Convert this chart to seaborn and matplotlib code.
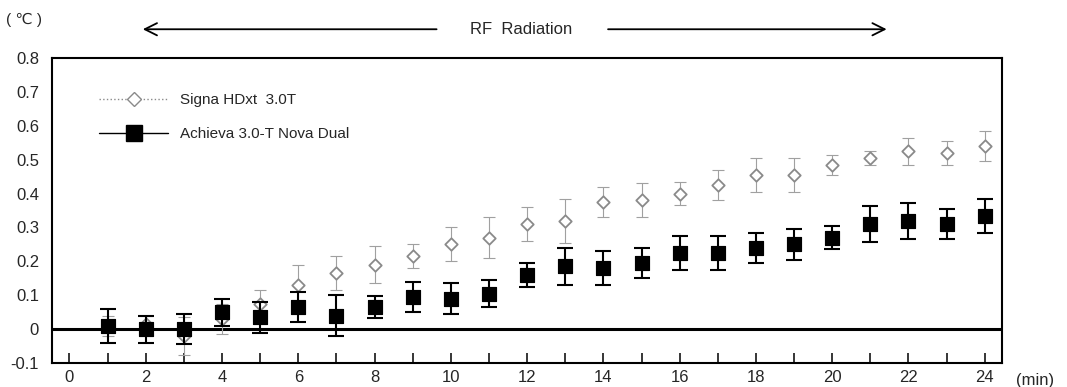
import numpy as np
import pandas as pd
import matplotlib
matplotlib.use("Agg")
import matplotlib.pyplot as plt
from matplotlib.lines import Line2D
import seaborn as sns

minutes = list(range(1, 25))

signa_mean = [0.01, 0.015, -0.02, 0.03, 0.075, 0.13, 0.165, 0.19, 0.215, 0.25, 0.27, 0.31,
              0.32, 0.375, 0.38, 0.40, 0.425, 0.455, 0.455, 0.485, 0.505, 0.525, 0.52, 0.54]
signa_err = [0.03, 0.025, 0.055, 0.045, 0.04, 0.06, 0.05, 0.055, 0.035, 0.05, 0.06, 0.05,
             0.065, 0.045, 0.05, 0.035, 0.045, 0.05, 0.05, 0.03, 0.02, 0.04, 0.035, 0.045]

achieva_mean = [0.01, 0.0, 0.0, 0.05, 0.035, 0.065, 0.04, 0.065, 0.095, 0.09, 0.105, 0.16,
                0.185, 0.18, 0.195, 0.225, 0.225, 0.24, 0.25, 0.27, 0.31, 0.32, 0.31, 0.335]
achieva_err = [0.05, 0.04, 0.045, 0.04, 0.045, 0.045, 0.06, 0.033, 0.045, 0.045, 0.04, 0.035,
               0.055, 0.05, 0.045, 0.05, 0.05, 0.045, 0.045, 0.033, 0.053, 0.053, 0.045, 0.05]

labels = ["Signa HDxt  3.0T", "Achieva 3.0-T Nova Dual"]

df = pd.DataFrame({
    "min": minutes * 2,
    "temp": signa_mean + achieva_mean,
    "err": signa_err + achieva_err,
    "scanner": [labels[0]] * 24 + [labels[1]] * 24,
})

sns.set_style("white")
plt.rcParams["font.family"] = ["Liberation Sans", "DejaVu Sans"]
plt.rcParams["font.size"] = 12

fig, ax = plt.subplots(figsize=(10.67, 3.87), dpi=100)
fig.subplots_adjust(left=0.049, right=0.939, top=0.85, bottom=0.062)

ax.axhline(0, color="black", lw=2.2, zorder=1)

s = df[df.scanner == labels[0]]
ax.errorbar(s["min"], s["temp"], yerr=s["err"], fmt="none", ecolor="#a0a0a0",
            elinewidth=0.8, capsize=4, capthick=0.8, ls=":", zorder=2)
sns.scatterplot(data=s, x="min", y="temp", marker="D", s=40, facecolor="white",
                edgecolor="#8a8a8a", linewidth=1.3, ax=ax, zorder=3)

a = df[df.scanner == labels[1]]
ax.errorbar(a["min"], a["temp"], yerr=a["err"], fmt="none", ecolor="black",
            elinewidth=1.5, capsize=6, capthick=1.5, zorder=4)
sns.scatterplot(data=a, x="min", y="temp", marker="s", s=110, color="black",
                edgecolor="black", ax=ax, zorder=5)

ax.set_xlim(-0.45, 24.45)
ax.set_ylim(-0.1, 0.8)
ax.set_yticks(np.arange(-0.1, 0.81, 0.1))
ax.set_yticklabels(["-0.1", "0", "0.1", "0.2", "0.3", "0.4", "0.5", "0.6", "0.7", "0.8"])
ax.set_xticks(range(0, 25, 2))
ax.set_xticks(range(0, 25), minor=True)
ax.tick_params(axis="x", which="both", direction="in", length=7, width=1.3, pad=5,
               bottom=True, labelsize=12)
ax.tick_params(axis="y", left=False, labelsize=12, pad=6)
ax.set_xlabel("")
ax.set_ylabel("")
for sp in ax.spines.values():
    sp.set_color("black")
    sp.set_linewidth(1.5)

handles = [
    Line2D([], [], color="#8a8a8a", ls=":", lw=1, marker="D", markersize=7,
           markerfacecolor="white", markeredgecolor="#8a8a8a"),
    Line2D([], [], color="black", lw=1, marker="s", markersize=11,
           markerfacecolor="black"),
]
ax.legend(handles, labels, loc="upper left", bbox_to_anchor=(0.035, 0.93), frameon=False,
          handlelength=4.5, labelspacing=1.3, fontsize=11)

ax.text(-0.03, 1.125, "( \u2103 )", transform=ax.transAxes, ha="center", va="center", fontsize=11)
ax.text(1.035, -0.056, "(min)", transform=ax.transAxes, ha="center", va="center", fontsize=12)

ax.annotate("", xy=(1.85, 0.885), xytext=(9.7, 0.885), xycoords="data",
            arrowprops=dict(arrowstyle="->", lw=1.3, color="black", mutation_scale=22),
            annotation_clip=False)
ax.annotate("", xy=(21.5, 0.885), xytext=(14.05, 0.885), xycoords="data",
            arrowprops=dict(arrowstyle="->", lw=1.3, color="black", mutation_scale=22),
            annotation_clip=False)
ax.text(11.85, 0.885, "RF  Radiation", ha="center", va="center", fontsize=12)

fig.savefig("out.png", dpi=100)
